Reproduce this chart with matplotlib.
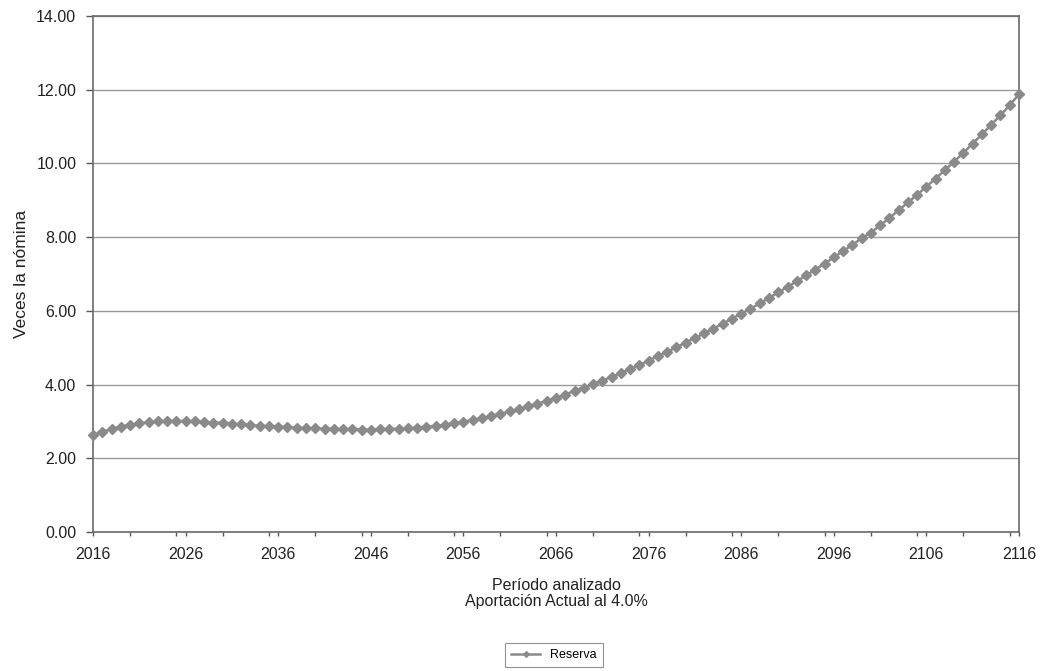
import matplotlib
matplotlib.use("Agg")
import matplotlib.pyplot as plt
from matplotlib.ticker import FixedLocator, FuncFormatter, MultipleLocator

plt.rcParams['font.family'] = ['Liberation Sans', 'DejaVu Sans']

years = list(range(2016, 2117))
reserva = [
    2.63, 2.72, 2.79, 2.86, 2.91, 2.95, 2.98, 3.00, 3.01, 3.01,   # 2016-2025
    3.01, 3.00, 2.99, 2.97, 2.96, 2.94, 2.92, 2.90, 2.88, 2.87,   # 2026-2035
    2.86, 2.84, 2.83, 2.82, 2.81, 2.80, 2.80, 2.79, 2.79, 2.78,   # 2036-2045
    2.78, 2.79, 2.79, 2.80, 2.81, 2.83, 2.85, 2.88, 2.91, 2.95,   # 2046-2055
    2.99, 3.04, 3.09, 3.15, 3.21, 3.27, 3.34, 3.41, 3.48, 3.56,   # 2056-2065
    3.64, 3.73, 3.83, 3.92, 4.01, 4.11, 4.21, 4.31, 4.42, 4.53,   # 2066-2075
    4.65, 4.77, 4.89, 5.01, 5.14, 5.26, 5.39, 5.52, 5.65, 5.79,   # 2076-2085
    5.92, 6.06, 6.20, 6.35, 6.50, 6.65, 6.80, 6.96, 7.12, 7.28,   # 2086-2095
    7.45, 7.62, 7.79, 7.97, 8.12, 8.32, 8.52, 8.73, 8.94, 9.15,   # 2096-2105
    9.37, 9.59, 9.82, 10.05, 10.29, 10.54, 10.79, 11.05, 11.31, 11.58,  # 2106-2115
    11.88,                                                         # 2116
]
x_labels = [2016, 2026, 2036, 2046, 2056, 2066, 2076, 2086, 2096, 2106, 2116]
y_ticks = [0, 2, 4, 6, 8, 10, 12, 14]

fig = plt.figure(figsize=(10.43, 6.71), dpi=100)
ax = fig.add_axes([93/1043, 1-532/671, (1019-93)/1043, (532-16)/671])

line_col = '#8a8a8a'
ax.plot(years, reserva, color=line_col, lw=1.8, marker='D', ms=4.8,
        mec=line_col, mfc=line_col, label='Reserva', zorder=3, clip_on=False)

ax.set_xlim(2016, 2116)
ax.set_ylim(0, 14)
ax.yaxis.set_major_locator(FixedLocator(y_ticks))
ax.yaxis.set_major_formatter(FuncFormatter(lambda v, p: f"{v:.2f}"))
ax.xaxis.set_major_locator(FixedLocator(x_labels))
ax.xaxis.set_minor_locator(MultipleLocator(5))
ax.tick_params(axis='both', which='both', direction='out', colors='#555555',
               labelcolor='#222222', labelsize=11.5, width=1)
ax.tick_params(axis='y', which='major', length=5, pad=7)
ax.tick_params(axis='x', which='both', length=3)
ax.tick_params(axis='x', which='major', pad=8)
ax.grid(axis='y', color='#9a9a9a', lw=1.0)
ax.set_axisbelow(True)
for s in ax.spines.values():
    s.set_color('#6a6a6a')
    s.set_linewidth(1.2)

ax.set_ylabel('Veces la nómina', fontsize=12.5, color='#222222', labelpad=5)
ax.set_xlabel('Período analizado\nAportación Actual al 4.0%', fontsize=11.5,
              color='#222222', labelpad=11, linespacing=1.15)

leg = ax.legend(loc='center', bbox_to_anchor=(554/1043, 1-655/671),
                bbox_transform=fig.transFigure, fontsize=9, frameon=True,
                fancybox=False, edgecolor='#777777', handlelength=2.3,
                borderpad=0.5, markerscale=0.6)
leg.get_frame().set_linewidth(0.8)

fig.savefig('out.png', dpi=100, facecolor='white')
